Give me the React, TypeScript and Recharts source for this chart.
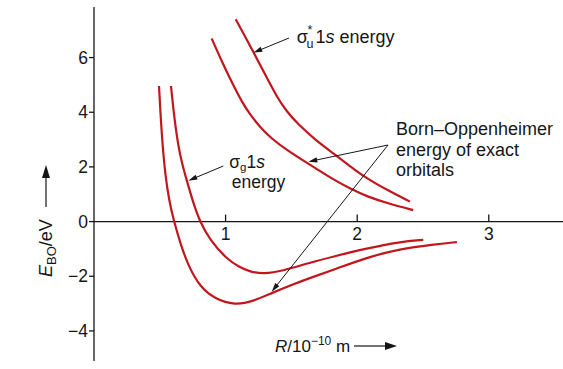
import React from 'react';
import { LineChart, Line, XAxis, YAxis, ReferenceLine, ReferenceDot } from 'recharts';

const FONT = '"Liberation Sans", Arial, Helvetica, sans-serif';
const RED = '#c1161c';
const INK = '#161616';

// R in 10^-10 m, E_BO in eV
const boGroundR = [0.494, 0.508, 0.522, 0.542, 0.57, 0.608, 0.661, 0.714, 0.805, 0.919, 1.071, 1.208, 1.353, 1.489, 1.641, 1.816, 2.074, 2.325, 2.576, 2.758];
const boGroundE = [4.96, 3.72, 2.73, 1.7, 0.79, -0.01, -0.86, -1.59, -2.39, -2.83, -3.06, -2.92, -2.61, -2.34, -2.06, -1.77, -1.31, -1.0, -0.84, -0.75];

const sigmaGR = [0.585, 0.612, 0.641, 0.672, 0.704, 0.752, 0.805, 0.881, 1.008, 1.109, 1.185, 1.286, 1.438, 1.641, 1.818, 2.072, 2.325, 2.502];
const sigmaGE = [4.96, 3.72, 2.74, 2.07, 1.52, 0.72, -0.01, -0.67, -1.37, -1.68, -1.83, -1.92, -1.8, -1.5, -1.28, -0.98, -0.74, -0.67];

const boExcitedR = [0.894, 0.973, 1.059, 1.125, 1.185, 1.261, 1.353, 1.459, 1.565, 1.687, 1.818, 1.945, 2.072, 2.249, 2.426];
const boExcitedE = [6.7, 5.84, 4.98, 4.37, 3.92, 3.46, 3.02, 2.64, 2.31, 1.94, 1.54, 1.21, 0.92, 0.64, 0.42];

const sigmaUR = [1.077, 1.144, 1.21, 1.299, 1.388, 1.467, 1.552, 1.679, 1.818, 1.945, 2.072, 2.234, 2.401];
const sigmaUE = [7.4, 6.81, 6.21, 5.4, 4.57, 4.01, 3.56, 3.0, 2.5, 2.03, 1.58, 1.14, 0.73];

const xTicks = [1, 2, 3];
const yTicks = [-4, -2, 0, 2, 4, 6];

const toRows = (r: number[], e: number[]) => r.map((v, i) => ({ r: v, e: e[i] }));

const curves = [
  toRows(boGroundR, boGroundE),
  toRows(sigmaGR, sigmaGE),
  toRows(boExcitedR, boExcitedE),
  toRows(sigmaUR, sigmaUE),
];

const W = 563;
const H = 369;

function Arrow({ x1, y1, x2, y2, head = 9, half = 2.6, width = 1 }: any) {
  const dx = x2 - x1;
  const dy = y2 - y1;
  const L = Math.hypot(dx, dy);
  const ux = dx / L;
  const uy = dy / L;
  const bx = x2 - ux * head;
  const by = y2 - uy * head;
  const px = -uy * half;
  const py = ux * half;
  return (
    <g>
      <line x1={x1} y1={y1} x2={bx + ux} y2={by + uy} stroke={INK} strokeWidth={width} />
      <polygon points={`${x2},${y2} ${bx + px},${by + py} ${bx - px},${by - py}`} fill={INK} />
    </g>
  );
}

const minus = (v: number) => (v < 0 ? `\u2212${-v}` : `${v}`);

export default function App() {
  return (
    <div style={{ position: 'absolute', left: 0, top: 0, width: W, height: H, background: '#fff', overflow: 'hidden' }}>
      <LineChart width={W} height={H} margin={{ top: 7, right: 0, bottom: 8, left: 0 }}>
        <XAxis type="number" dataKey="r" domain={[0, 3.564]} allowDataOverflow hide />
        <YAxis
          type="number"
          domain={[-5.1, 7.85]}
          allowDataOverflow
          ticks={yTicks}
          width={94}
          tickSize={5}
          tickMargin={1}
          tickFormatter={minus}
          axisLine={{ stroke: INK, strokeWidth: 1.3 }}
          tickLine={{ stroke: INK, strokeWidth: 1.3 }}
          tick={{ fill: INK, fontSize: 17.5, fontFamily: FONT }}
        />
        <ReferenceLine y={0} stroke={INK} strokeWidth={1.3} />
        {xTicks.map((t) => (
          <ReferenceDot
            key={t}
            x={t}
            y={0}
            r={0}
            shape={(p: any) => (
              <g>
                <line x1={p.cx} y1={p.cy} x2={p.cx} y2={p.cy - 7} stroke={INK} strokeWidth={1.3} />
                <text x={p.cx} y={p.cy + 18} textAnchor="middle" fontFamily={FONT} fontSize={17.5} fill={INK}>
                  {t}
                </text>
              </g>
            )}
          />
        ))}
        {curves.map((d, i) => (
          <Line
            key={i}
            data={d}
            dataKey="e"
            type="basis"
            stroke={RED}
            strokeWidth={2.2}
            dot={false}
            isAnimationActive={false}
          />
        ))}
      </LineChart>

      <svg width={W} height={H} style={{ position: 'absolute', left: 0, top: 0, pointerEvents: 'none' }}>
        <g fontFamily={FONT} fill={INK}>
          {/* y axis label */}
          <text transform="translate(52,277) rotate(-90)" fontSize={18}>
            <tspan fontStyle="italic">E</tspan>
            <tspan fontSize={13} dy={4}>BO</tspan>
            <tspan dy={-4}>/eV</tspan>
          </text>
          <Arrow x1={46} y1={207} x2={46} y2={165} head={13} half={4} width={1.2} />

          {/* x axis label */}
          <text x={275} y={352} fontSize={17}>
            <tspan fontStyle="italic">R</tspan>
            <tspan>/10</tspan>
            <tspan fontSize={12} dy={-7}>{'\u221210'}</tspan>
            <tspan dy={7}> m</tspan>
          </text>
          <Arrow x1={354} y1={346} x2={397} y2={346} head={12} half={4} width={1.2} />

          {/* sigma_u* label */}
          <text y={43} fontSize={18}>
            <tspan x={296.7}>σ</tspan>
            <tspan x={307.5} dy={-9} fontSize={12.5}>*</tspan>
            <tspan x={306.5} dy={14} fontSize={12.5}>u</tspan>
            <tspan x={315.5} dy={-5}>1</tspan>
            <tspan fontStyle="italic">s</tspan>
            <tspan> energy</tspan>
          </text>
          <Arrow x1={289} y1={38} x2={253.3} y2={52.7} />

          {/* sigma_g label */}
          <text y={168} fontSize={17.5}>
            <tspan x={229.3}>σ</tspan>
            <tspan fontSize={11.5} dy={3}>g</tspan>
            <tspan dy={-3}>1</tspan>
            <tspan fontStyle="italic">s</tspan>
          </text>
          <text x={231.7} y={188} fontSize={17.5}>energy</text>
          <Arrow x1={223.3} y1={166} x2={188.3} y2={180.7} />

          {/* Born-Oppenheimer label */}
          <text x={396} y={135} fontSize={18}>Born–Oppenheimer</text>
          <text x={396} y={155.5} fontSize={18}>energy of exact</text>
          <text x={396} y={176} fontSize={18}>orbitals</text>
          <Arrow x1={388} y1={145} x2={308.3} y2={161.7} />
          <Arrow x1={388} y1={145} x2={271.7} y2={291.7} />
        </g>
      </svg>
    </div>
  );
}
